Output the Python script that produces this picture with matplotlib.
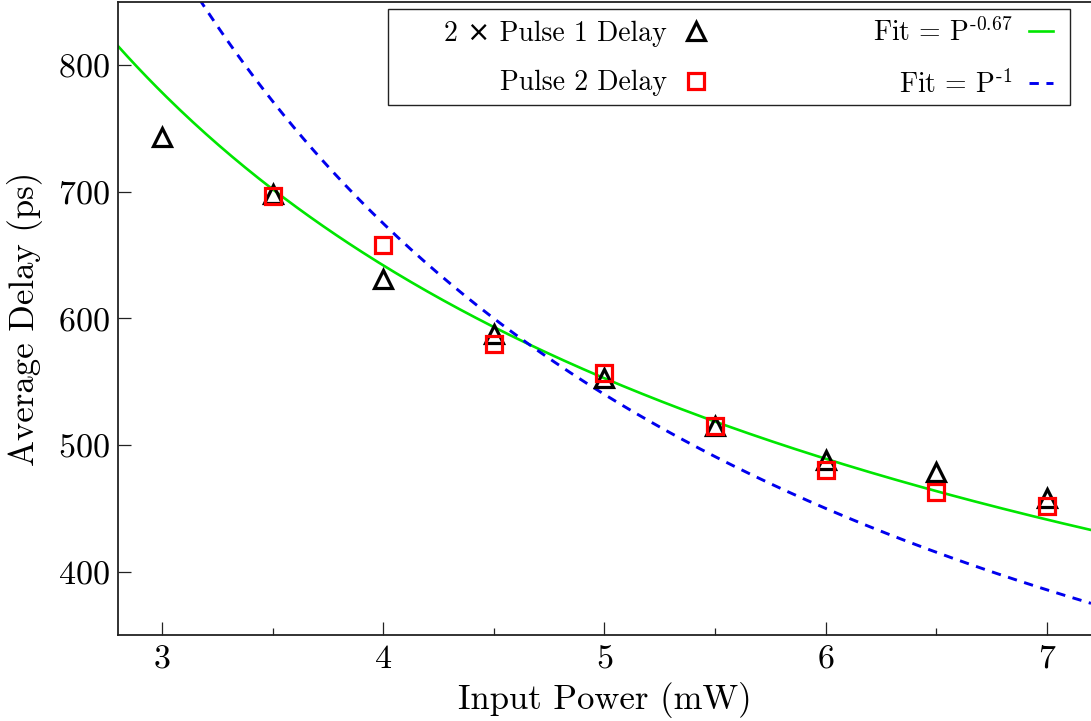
import numpy as np
import matplotlib
matplotlib.use('Agg')
import matplotlib.pyplot as plt
from matplotlib.ticker import MultipleLocator, FixedLocator
from matplotlib.patches import Rectangle

plt.rcParams['font.family'] = ['cmr10', 'DejaVu Sans']
plt.rcParams['mathtext.fontset'] = 'cm'
plt.rcParams['axes.formatter.use_mathtext'] = True

# measured delays
power = [3.0, 3.5, 4.0, 4.5, 5.0, 5.5, 6.0, 6.5, 7.0]
pulse1_x2 = [743, 698, 631, 588, 553, 515, 488, 479, 458]
power2 = [3.5, 4.0, 4.5, 5.0, 5.5, 6.0, 6.5, 7.0]
pulse2 = [697, 658, 580, 557, 515, 480, 463, 452]

# power-law fits  delay = amp * P^exp
fit1_amp, fit1_exp = 1625, -0.67
fit2_amp, fit2_exp = 2700, -1.0

fig = plt.figure(figsize=(10.91, 7.21), dpi=100)
ax = fig.add_axes([118 / 1091, 86 / 721, 973 / 1091, 633 / 721])

pp = np.linspace(2.8, 7.2, 300)
ax.plot(power, pulse1_x2, linestyle='none', marker='^', ms=12.5, mfc='none',
        mec='black', mew=2.3, label='2 × Pulse 1 Delay', zorder=3)
ax.plot(power2, pulse2, linestyle='none', marker='s', ms=11, mfc='none',
        mec='#ff0000', mew=2.3, label='Pulse 2 Delay', zorder=4)
ax.plot(pp, fit1_amp * pp ** fit1_exp, color='#00e600', lw=1.9,
        label=r'Fit = P$^{\text{-0.67}}$', zorder=2)
ax.plot(pp, fit2_amp * pp ** fit2_exp, color='#0000ee', lw=2.1,
        dashes=(3.2, 2.6), label=r'Fit = P$^{\text{-1}}$', zorder=2)

ax.set_xlim(2.8, 7.2)
ax.set_ylim(350, 850)
ax.xaxis.set_major_locator(FixedLocator([3, 4, 5, 6, 7]))
ax.xaxis.set_minor_locator(MultipleLocator(0.5))
ax.yaxis.set_major_locator(FixedLocator([400, 500, 600, 700, 800]))

ax.tick_params(axis='both', which='major', direction='in', length=9.5,
               width=0.9, color='#222222', labelsize=24.5)
ax.tick_params(axis='x', which='major', pad=7)
ax.tick_params(axis='y', which='major', pad=6)
ax.tick_params(axis='x', which='minor', direction='in', length=5, width=0.9,
               color='#222222')
ax.spines['right'].set_visible(False)
for s in ['left', 'bottom', 'top']:
    ax.spines[s].set_linewidth(1.3)
    ax.spines[s].set_color('#222222')

ax.set_xlabel('Input Power (mW)', fontsize=25, labelpad=6)
ax.set_ylabel('Average Delay (ps)', fontsize=25)
ax.yaxis.set_label_coords(-0.077, 0.5)

# legend: text right-aligned before the keys, box drawn separately
leg = ax.legend(ncol=2, markerfirst=False, frameon=False, fontsize=20,
                handlelength=0.86, handletextpad=0.6, columnspacing=5.95,
                labelspacing=0.84, borderpad=0, borderaxespad=0,
                loc='upper right', bbox_to_anchor=((1053 - 118) / 973, 1 - 16 / 633))
ax.add_patch(Rectangle(((388 - 118) / 973, 1 - 103 / 633),
                       (1070 - 388) / 973, 96 / 633, transform=ax.transAxes,
                       fill=False, lw=1.0, ec='#222222', zorder=5, clip_on=False))

fig.savefig('out.png', dpi=100)
